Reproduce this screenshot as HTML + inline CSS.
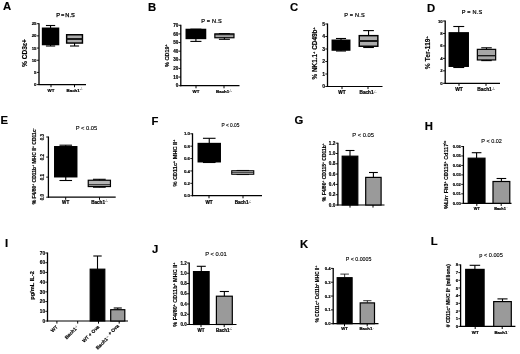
<!DOCTYPE html>
<html><head><meta charset="utf-8"><title>Figure</title>
<style>html,body{margin:0;padding:0;background:#fff}svg{display:block;font-family:"Liberation Sans", sans-serif}</style></head>
<body><svg width="520" height="354" viewBox="0 0 520 354" style="filter:blur(0.45px)">
<rect width="520" height="354" fill="#fff"/>
<text x="3" y="10" font-size="11.3" font-weight="bold" text-anchor="start" fill="#000" stroke="#000" stroke-width="0.16">A</text>
<line x1="39" y1="23.2" x2="39" y2="85.1" stroke="#000" stroke-width="1.3"/>
<line x1="38.5" y1="84.6" x2="86" y2="84.6" stroke="#000" stroke-width="1.2"/>
<line x1="36.8" y1="84.6" x2="39" y2="84.6" stroke="#000" stroke-width="0.9"/>
<text x="36.5" y="86.148" font-size="4.3" font-weight="bold" text-anchor="end" fill="#000" stroke="#000" stroke-width="0.16">0</text>
<line x1="36.8" y1="72.42" x2="39" y2="72.42" stroke="#000" stroke-width="0.9"/>
<text x="36.5" y="73.968" font-size="4.3" font-weight="bold" text-anchor="end" fill="#000" stroke="#000" stroke-width="0.16">5</text>
<line x1="36.8" y1="60.239999999999995" x2="39" y2="60.239999999999995" stroke="#000" stroke-width="0.9"/>
<text x="36.5" y="61.788" font-size="4.3" font-weight="bold" text-anchor="end" fill="#000" stroke="#000" stroke-width="0.16">10</text>
<line x1="36.8" y1="48.059999999999995" x2="39" y2="48.059999999999995" stroke="#000" stroke-width="0.9"/>
<text x="36.5" y="49.608" font-size="4.3" font-weight="bold" text-anchor="end" fill="#000" stroke="#000" stroke-width="0.16">15</text>
<line x1="36.8" y1="35.88" x2="39" y2="35.88" stroke="#000" stroke-width="0.9"/>
<text x="36.5" y="37.428000000000004" font-size="4.3" font-weight="bold" text-anchor="end" fill="#000" stroke="#000" stroke-width="0.16">20</text>
<line x1="36.8" y1="23.700000000000003" x2="39" y2="23.700000000000003" stroke="#000" stroke-width="0.9"/>
<text x="36.5" y="25.248" font-size="4.3" font-weight="bold" text-anchor="end" fill="#000" stroke="#000" stroke-width="0.16">25</text>
<line x1="51" y1="84.6" x2="51" y2="87.19999999999999" stroke="#000" stroke-width="1"/>
<line x1="74.5" y1="84.6" x2="74.5" y2="87.19999999999999" stroke="#000" stroke-width="1"/>
<text x="65.5" y="16.5" font-size="5.7" font-weight="normal" text-anchor="middle" fill="#000" stroke="#000" stroke-width="0.25" word-spacing="-0.5">P = N.S</text>
<text x="27.3" y="53" font-size="6.6" font-weight="bold" text-anchor="middle" fill="#000" stroke="#000" stroke-width="0.16" transform="rotate(-90 27.3 53)">% CD3&#949;+</text>
<text x="51" y="91.7" font-size="4.4" font-weight="bold" text-anchor="middle" fill="#000" stroke="#000" stroke-width="0.22">WT</text>
<text x="74.5" y="91.7" font-size="4.4" font-weight="bold" text-anchor="middle" fill="#000" stroke="#000" stroke-width="0.22">Bach1<tspan font-size="58%" dy="-1.5" font-weight="normal" stroke="none" letter-spacing="0.1">-/-</tspan></text>
<line x1="50.55" y1="25.5" x2="50.55" y2="46" stroke="#000" stroke-width="1.1"/>
<line x1="45.93" y1="25.5" x2="55.169999999999995" y2="25.5" stroke="#000" stroke-width="1.1"/>
<line x1="45.93" y1="46" x2="55.169999999999995" y2="46" stroke="#000" stroke-width="1.1"/>
<rect x="42.55" y="28.25" width="16.0" height="16.299999999999997" fill="#000" stroke="#000" stroke-width="1.45"/>
<line x1="74.55000000000001" y1="35" x2="74.55000000000001" y2="46" stroke="#000" stroke-width="1.1"/>
<line x1="69.98600000000002" y1="35" x2="79.114" y2="35" stroke="#000" stroke-width="1.1"/>
<line x1="69.98600000000002" y1="46" x2="79.114" y2="46" stroke="#000" stroke-width="1.1"/>
<rect x="66.65" y="34.75" width="15.799999999999997" height="8.299999999999997" fill="#acacac" stroke="#000" stroke-width="1.45"/>
<line x1="66.4" y1="39" x2="82.7" y2="39" stroke="#111" stroke-width="1.9"/>
<text x="148" y="11" font-size="11.3" font-weight="bold" text-anchor="start" fill="#000" stroke="#000" stroke-width="0.16">B</text>
<line x1="180.8" y1="24.8" x2="180.8" y2="86.2" stroke="#000" stroke-width="1.3"/>
<line x1="180.3" y1="85.7" x2="239.5" y2="85.7" stroke="#000" stroke-width="1.2"/>
<line x1="178.60000000000002" y1="85.7" x2="180.8" y2="85.7" stroke="#000" stroke-width="0.9"/>
<text x="178.3" y="87.35600000000001" font-size="4.6" font-weight="bold" text-anchor="end" fill="#000" stroke="#000" stroke-width="0.16">0</text>
<line x1="178.60000000000002" y1="77.07142857142857" x2="180.8" y2="77.07142857142857" stroke="#000" stroke-width="0.9"/>
<text x="178.3" y="78.72742857142858" font-size="4.6" font-weight="bold" text-anchor="end" fill="#000" stroke="#000" stroke-width="0.16">10</text>
<line x1="178.60000000000002" y1="68.44285714285715" x2="180.8" y2="68.44285714285715" stroke="#000" stroke-width="0.9"/>
<text x="178.3" y="70.09885714285716" font-size="4.6" font-weight="bold" text-anchor="end" fill="#000" stroke="#000" stroke-width="0.16">20</text>
<line x1="178.60000000000002" y1="59.81428571428572" x2="180.8" y2="59.81428571428572" stroke="#000" stroke-width="0.9"/>
<text x="178.3" y="61.470285714285716" font-size="4.6" font-weight="bold" text-anchor="end" fill="#000" stroke="#000" stroke-width="0.16">30</text>
<line x1="178.60000000000002" y1="51.18571428571428" x2="180.8" y2="51.18571428571428" stroke="#000" stroke-width="0.9"/>
<text x="178.3" y="52.84171428571428" font-size="4.6" font-weight="bold" text-anchor="end" fill="#000" stroke="#000" stroke-width="0.16">40</text>
<line x1="178.60000000000002" y1="42.55714285714286" x2="180.8" y2="42.55714285714286" stroke="#000" stroke-width="0.9"/>
<text x="178.3" y="44.213142857142856" font-size="4.6" font-weight="bold" text-anchor="end" fill="#000" stroke="#000" stroke-width="0.16">50</text>
<line x1="178.60000000000002" y1="33.92857142857142" x2="180.8" y2="33.92857142857142" stroke="#000" stroke-width="0.9"/>
<text x="178.3" y="35.58457142857142" font-size="4.6" font-weight="bold" text-anchor="end" fill="#000" stroke="#000" stroke-width="0.16">60</text>
<line x1="178.60000000000002" y1="25.29999999999999" x2="180.8" y2="25.29999999999999" stroke="#000" stroke-width="0.9"/>
<text x="178.3" y="26.95599999999999" font-size="4.6" font-weight="bold" text-anchor="end" fill="#000" stroke="#000" stroke-width="0.16">70</text>
<line x1="196" y1="85.7" x2="196" y2="88.3" stroke="#000" stroke-width="1"/>
<line x1="224" y1="85.7" x2="224" y2="88.3" stroke="#000" stroke-width="1"/>
<text x="211.5" y="22.7" font-size="5.6" font-weight="normal" text-anchor="middle" fill="#000" stroke="#000" stroke-width="0.2" letter-spacing="0.18">P = N.S</text>
<text x="169" y="55.6" font-size="5.5" font-weight="bold" text-anchor="middle" fill="#000" stroke="#000" stroke-width="0.16" transform="rotate(-90 169 55.6)">% CD19<tspan font-size="65%" baseline-shift="super">+</tspan></text>
<text x="196" y="93" font-size="4.4" font-weight="bold" text-anchor="middle" fill="#000" stroke="#000" stroke-width="0.22">WT</text>
<text x="224" y="93" font-size="4.4" font-weight="bold" text-anchor="middle" fill="#000" stroke="#000" stroke-width="0.22">Bach1<tspan font-size="58%" dy="-1.5" font-weight="normal" stroke="none" letter-spacing="0.1">-/-</tspan></text>
<line x1="195.9" y1="29.2" x2="195.9" y2="41.4" stroke="#000" stroke-width="1.1"/>
<line x1="190.356" y1="29.2" x2="201.44400000000002" y2="29.2" stroke="#000" stroke-width="1.1"/>
<line x1="190.356" y1="41.4" x2="201.44400000000002" y2="41.4" stroke="#000" stroke-width="1.1"/>
<rect x="186.25" y="29.45" width="19.30000000000001" height="9.000000000000004" fill="#000" stroke="#000" stroke-width="1.45"/>
<line x1="224.39999999999998" y1="33.6" x2="224.39999999999998" y2="39.3" stroke="#000" stroke-width="1.1"/>
<line x1="218.91199999999998" y1="33.6" x2="229.88799999999998" y2="33.6" stroke="#000" stroke-width="1.1"/>
<line x1="218.91199999999998" y1="39.3" x2="229.88799999999998" y2="39.3" stroke="#000" stroke-width="1.1"/>
<rect x="214.85" y="33.85" width="19.099999999999994" height="3.8999999999999986" fill="#a4a4a4" stroke="#000" stroke-width="1.2"/>
<line x1="214.6" y1="34.7" x2="234.2" y2="34.7" stroke="#111" stroke-width="0.9"/>
<text x="290" y="11" font-size="11.3" font-weight="bold" text-anchor="start" fill="#000" stroke="#000" stroke-width="0.16">C</text>
<line x1="327.5" y1="23.5" x2="327.5" y2="87.0" stroke="#000" stroke-width="1.3"/>
<line x1="327.0" y1="86.5" x2="382.5" y2="86.5" stroke="#000" stroke-width="1.2"/>
<line x1="325.3" y1="86.5" x2="327.5" y2="86.5" stroke="#000" stroke-width="0.9"/>
<text x="325.0" y="88.3" font-size="5" font-weight="bold" text-anchor="end" fill="#000" stroke="#000" stroke-width="0.16">0</text>
<line x1="325.3" y1="74.0" x2="327.5" y2="74.0" stroke="#000" stroke-width="0.9"/>
<text x="325.0" y="75.8" font-size="5" font-weight="bold" text-anchor="end" fill="#000" stroke="#000" stroke-width="0.16">1</text>
<line x1="325.3" y1="61.5" x2="327.5" y2="61.5" stroke="#000" stroke-width="0.9"/>
<text x="325.0" y="63.3" font-size="5" font-weight="bold" text-anchor="end" fill="#000" stroke="#000" stroke-width="0.16">2</text>
<line x1="325.3" y1="49.0" x2="327.5" y2="49.0" stroke="#000" stroke-width="0.9"/>
<text x="325.0" y="50.8" font-size="5" font-weight="bold" text-anchor="end" fill="#000" stroke="#000" stroke-width="0.16">3</text>
<line x1="325.3" y1="36.5" x2="327.5" y2="36.5" stroke="#000" stroke-width="0.9"/>
<text x="325.0" y="38.3" font-size="5" font-weight="bold" text-anchor="end" fill="#000" stroke="#000" stroke-width="0.16">4</text>
<line x1="325.3" y1="24.0" x2="327.5" y2="24.0" stroke="#000" stroke-width="0.9"/>
<text x="325.0" y="25.8" font-size="5" font-weight="bold" text-anchor="end" fill="#000" stroke="#000" stroke-width="0.16">5</text>
<line x1="342" y1="86.5" x2="342" y2="89.1" stroke="#000" stroke-width="1"/>
<line x1="368" y1="86.5" x2="368" y2="89.1" stroke="#000" stroke-width="1"/>
<text x="354.6" y="17.3" font-size="5.6" font-weight="normal" text-anchor="middle" fill="#000" stroke="#000" stroke-width="0.2" letter-spacing="0.18">P = N.S</text>
<text x="317" y="53.3" font-size="6.4" font-weight="bold" text-anchor="middle" fill="#000" stroke="#000" stroke-width="0.16" transform="rotate(-90 317 53.3)">% NK1.1<tspan font-size="65%" baseline-shift="super">+</tspan> CD49b<tspan font-size="65%" baseline-shift="super">+</tspan></text>
<text x="342" y="94" font-size="4.7" font-weight="bold" text-anchor="middle" fill="#000" stroke="#000" stroke-width="0.22">WT</text>
<text x="368" y="94" font-size="4.7" font-weight="bold" text-anchor="middle" fill="#000" stroke="#000" stroke-width="0.22">Bach1<tspan font-size="58%" dy="-1.5" font-weight="normal" stroke="none" letter-spacing="0.1">-/-</tspan></text>
<line x1="341.0" y1="38.5" x2="341.0" y2="51" stroke="#000" stroke-width="1.1"/>
<line x1="335.96" y1="38.5" x2="346.04" y2="38.5" stroke="#000" stroke-width="1.1"/>
<line x1="335.96" y1="51" x2="346.04" y2="51" stroke="#000" stroke-width="1.1"/>
<rect x="332.25" y="40.25" width="17.5" height="9.799999999999997" fill="#000" stroke="#000" stroke-width="1.45"/>
<line x1="368.55" y1="30.6" x2="368.55" y2="47.5" stroke="#000" stroke-width="1.1"/>
<line x1="363.202" y1="30.6" x2="373.898" y2="30.6" stroke="#000" stroke-width="1.1"/>
<line x1="363.202" y1="47.5" x2="373.898" y2="47.5" stroke="#000" stroke-width="1.1"/>
<rect x="359.25" y="35.65" width="18.600000000000023" height="10.600000000000001" fill="#acacac" stroke="#000" stroke-width="1.45"/>
<line x1="359" y1="41" x2="378.1" y2="41" stroke="#111" stroke-width="1.9"/>
<text x="427" y="11.6" font-size="11.3" font-weight="bold" text-anchor="start" fill="#000" stroke="#000" stroke-width="0.16">D</text>
<line x1="445.2" y1="20.5" x2="445.2" y2="83.8" stroke="#000" stroke-width="1.3"/>
<line x1="444.7" y1="83.3" x2="500" y2="83.3" stroke="#000" stroke-width="1.2"/>
<line x1="443.0" y1="83.3" x2="445.2" y2="83.3" stroke="#000" stroke-width="0.9"/>
<text x="442.7" y="84.848" font-size="4.3" font-weight="bold" text-anchor="end" fill="#000" stroke="#000" stroke-width="0.16">0</text>
<line x1="443.0" y1="70.84" x2="445.2" y2="70.84" stroke="#000" stroke-width="0.9"/>
<text x="442.7" y="72.388" font-size="4.3" font-weight="bold" text-anchor="end" fill="#000" stroke="#000" stroke-width="0.16">2</text>
<line x1="443.0" y1="58.379999999999995" x2="445.2" y2="58.379999999999995" stroke="#000" stroke-width="0.9"/>
<text x="442.7" y="59.928" font-size="4.3" font-weight="bold" text-anchor="end" fill="#000" stroke="#000" stroke-width="0.16">4</text>
<line x1="443.0" y1="45.92" x2="445.2" y2="45.92" stroke="#000" stroke-width="0.9"/>
<text x="442.7" y="47.468" font-size="4.3" font-weight="bold" text-anchor="end" fill="#000" stroke="#000" stroke-width="0.16">6</text>
<line x1="443.0" y1="33.46" x2="445.2" y2="33.46" stroke="#000" stroke-width="0.9"/>
<text x="442.7" y="35.008" font-size="4.3" font-weight="bold" text-anchor="end" fill="#000" stroke="#000" stroke-width="0.16">8</text>
<line x1="443.0" y1="21.0" x2="445.2" y2="21.0" stroke="#000" stroke-width="0.9"/>
<text x="442.7" y="22.548" font-size="4.3" font-weight="bold" text-anchor="end" fill="#000" stroke="#000" stroke-width="0.16">10</text>
<line x1="459" y1="83.3" x2="459" y2="85.89999999999999" stroke="#000" stroke-width="1"/>
<line x1="486" y1="83.3" x2="486" y2="85.89999999999999" stroke="#000" stroke-width="1"/>
<text x="472" y="14" font-size="5.6" font-weight="normal" text-anchor="middle" fill="#000" stroke="#000" stroke-width="0.2" letter-spacing="0.18">P = N.S</text>
<text x="429.8" y="52.5" font-size="6.7" font-weight="bold" text-anchor="middle" fill="#000" stroke="#000" stroke-width="0.16" transform="rotate(-90 429.8 52.5)">% Ter-119<tspan font-size="65%" baseline-shift="super">+</tspan></text>
<text x="459" y="91" font-size="4.9" font-weight="bold" text-anchor="middle" fill="#000" stroke="#000" stroke-width="0.22">WT</text>
<text x="486" y="91" font-size="4.9" font-weight="bold" text-anchor="middle" fill="#000" stroke="#000" stroke-width="0.22">Bach1<tspan font-size="58%" dy="-1.5" font-weight="normal" stroke="none" letter-spacing="0.1">-/-</tspan></text>
<line x1="458.75" y1="26.5" x2="458.75" y2="67.5" stroke="#000" stroke-width="1.1"/>
<line x1="453.29" y1="26.5" x2="464.21" y2="26.5" stroke="#000" stroke-width="1.1"/>
<line x1="453.29" y1="67.5" x2="464.21" y2="67.5" stroke="#000" stroke-width="1.1"/>
<rect x="449.25" y="32.85" width="19.0" height="33.4" fill="#000" stroke="#000" stroke-width="1.45"/>
<line x1="486.5" y1="47.8" x2="486.5" y2="60.6" stroke="#000" stroke-width="1.1"/>
<line x1="481.236" y1="47.8" x2="491.764" y2="47.8" stroke="#000" stroke-width="1.1"/>
<line x1="481.236" y1="60.6" x2="491.764" y2="60.6" stroke="#000" stroke-width="1.1"/>
<rect x="477.35" y="49.35" width="18.299999999999955" height="10.600000000000001" fill="#a6a6a6" stroke="#000" stroke-width="1.2"/>
<line x1="477.1" y1="55.7" x2="495.9" y2="55.7" stroke="#111" stroke-width="1.3"/>
<text x="0.4" y="124" font-size="11.3" font-weight="bold" text-anchor="start" fill="#000" stroke="#000" stroke-width="0.16">E</text>
<line x1="48.4" y1="136.5" x2="48.4" y2="197.7" stroke="#000" stroke-width="1.3"/>
<line x1="47.9" y1="197.2" x2="115.7" y2="197.2" stroke="#000" stroke-width="1.2"/>
<line x1="46.199999999999996" y1="197.2" x2="48.4" y2="197.2" stroke="#000" stroke-width="0.9"/>
<text x="44.0" y="197.2" font-size="4.5" font-weight="bold" text-anchor="middle" fill="#000" stroke="#000" stroke-width="0.16" transform="rotate(-90 44.0 197.2)">0.0</text>
<line x1="46.199999999999996" y1="177.13333333333333" x2="48.4" y2="177.13333333333333" stroke="#000" stroke-width="0.9"/>
<text x="44.0" y="177.13333333333333" font-size="4.5" font-weight="bold" text-anchor="middle" fill="#000" stroke="#000" stroke-width="0.16" transform="rotate(-90 44.0 177.13333333333333)">0.1</text>
<line x1="46.199999999999996" y1="157.06666666666666" x2="48.4" y2="157.06666666666666" stroke="#000" stroke-width="0.9"/>
<text x="44.0" y="157.06666666666666" font-size="4.5" font-weight="bold" text-anchor="middle" fill="#000" stroke="#000" stroke-width="0.16" transform="rotate(-90 44.0 157.06666666666666)">0.2</text>
<line x1="46.199999999999996" y1="137.0" x2="48.4" y2="137.0" stroke="#000" stroke-width="0.9"/>
<text x="44.0" y="137.0" font-size="4.5" font-weight="bold" text-anchor="middle" fill="#000" stroke="#000" stroke-width="0.16" transform="rotate(-90 44.0 137.0)">0.3</text>
<line x1="65.7" y1="197.2" x2="65.7" y2="199.79999999999998" stroke="#000" stroke-width="1"/>
<line x1="99.5" y1="197.2" x2="99.5" y2="199.79999999999998" stroke="#000" stroke-width="1"/>
<text x="86.5" y="129.6" font-size="5.8" font-weight="normal" text-anchor="middle" fill="#000" stroke="#000" stroke-width="0.12">P &lt; 0.05</text>
<text x="35.9" y="166.3" font-size="5" font-weight="bold" text-anchor="middle" fill="#000" stroke="#000" stroke-width="0.16" transform="rotate(-90 35.9 166.3)">% F4/80<tspan font-size="65%" baseline-shift="super">+</tspan> CD11b<tspan font-size="65%" baseline-shift="super">+</tspan> MHC II<tspan font-size="65%" baseline-shift="super">+</tspan> CD11c<tspan font-size="65%" baseline-shift="super">-</tspan></text>
<text x="65.7" y="203.5" font-size="4.6" font-weight="bold" text-anchor="middle" fill="#000" stroke="#000" stroke-width="0.22">WT</text>
<text x="99.5" y="203.5" font-size="4.6" font-weight="bold" text-anchor="middle" fill="#000" stroke="#000" stroke-width="0.22">Bach1<tspan font-size="58%" dy="-1.5" font-weight="normal" stroke="none" letter-spacing="0.1">-/-</tspan></text>
<line x1="65.75" y1="145.2" x2="65.75" y2="180.5" stroke="#000" stroke-width="1.1"/>
<line x1="59.45" y1="145.2" x2="72.05" y2="145.2" stroke="#000" stroke-width="1.1"/>
<line x1="59.45" y1="180.5" x2="72.05" y2="180.5" stroke="#000" stroke-width="1.1"/>
<rect x="54.75" y="146.75" width="22.0" height="30.0" fill="#000" stroke="#000" stroke-width="1.45"/>
<line x1="99.35" y1="179.3" x2="99.35" y2="187.2" stroke="#000" stroke-width="1.1"/>
<line x1="92.994" y1="179.3" x2="105.70599999999999" y2="179.3" stroke="#000" stroke-width="1.1"/>
<line x1="92.994" y1="187.2" x2="105.70599999999999" y2="187.2" stroke="#000" stroke-width="1.1"/>
<rect x="88.25" y="180.25" width="22.200000000000003" height="6.300000000000011" fill="#b4b4b4" stroke="#000" stroke-width="1.2"/>
<line x1="88" y1="184.7" x2="110.7" y2="184.7" stroke="#111" stroke-width="0.9"/>
<text x="151.5" y="124.5" font-size="11.3" font-weight="bold" text-anchor="start" fill="#000" stroke="#000" stroke-width="0.16">F</text>
<line x1="192.5" y1="133.3" x2="192.5" y2="196.2" stroke="#000" stroke-width="1.3"/>
<line x1="192.0" y1="195.7" x2="262" y2="195.7" stroke="#000" stroke-width="1.2"/>
<line x1="190.3" y1="195.7" x2="192.5" y2="195.7" stroke="#000" stroke-width="0.9"/>
<text x="190.0" y="197.284" font-size="4.4" font-weight="bold" text-anchor="end" fill="#000" stroke="#000" stroke-width="0.16">0.0</text>
<line x1="190.3" y1="183.32" x2="192.5" y2="183.32" stroke="#000" stroke-width="0.9"/>
<text x="190.0" y="184.904" font-size="4.4" font-weight="bold" text-anchor="end" fill="#000" stroke="#000" stroke-width="0.16">0.2</text>
<line x1="190.3" y1="170.94" x2="192.5" y2="170.94" stroke="#000" stroke-width="0.9"/>
<text x="190.0" y="172.524" font-size="4.4" font-weight="bold" text-anchor="end" fill="#000" stroke="#000" stroke-width="0.16">0.4</text>
<line x1="190.3" y1="158.56" x2="192.5" y2="158.56" stroke="#000" stroke-width="0.9"/>
<text x="190.0" y="160.144" font-size="4.4" font-weight="bold" text-anchor="end" fill="#000" stroke="#000" stroke-width="0.16">0.6</text>
<line x1="190.3" y1="146.18" x2="192.5" y2="146.18" stroke="#000" stroke-width="0.9"/>
<text x="190.0" y="147.764" font-size="4.4" font-weight="bold" text-anchor="end" fill="#000" stroke="#000" stroke-width="0.16">0.8</text>
<line x1="190.3" y1="133.8" x2="192.5" y2="133.8" stroke="#000" stroke-width="0.9"/>
<text x="190.0" y="135.38400000000001" font-size="4.4" font-weight="bold" text-anchor="end" fill="#000" stroke="#000" stroke-width="0.16">1.0</text>
<line x1="209" y1="195.7" x2="209" y2="198.29999999999998" stroke="#000" stroke-width="1"/>
<line x1="243" y1="195.7" x2="243" y2="198.29999999999998" stroke="#000" stroke-width="1"/>
<text x="230.5" y="126.5" font-size="4.8" font-weight="normal" text-anchor="middle" fill="#000" stroke="#000" stroke-width="0.12">P &lt; 0.05</text>
<text x="176.6" y="163.1" font-size="5.6" font-weight="bold" text-anchor="middle" fill="#000" stroke="#000" stroke-width="0.16" transform="rotate(-90 176.6 163.1)">% CD11c<tspan font-size="65%" baseline-shift="super">+</tspan> MHC  II<tspan font-size="65%" baseline-shift="super">+</tspan></text>
<text x="209" y="204" font-size="4.6" font-weight="bold" text-anchor="middle" fill="#000" stroke="#000" stroke-width="0.22">WT</text>
<text x="243" y="204" font-size="4.6" font-weight="bold" text-anchor="middle" fill="#000" stroke="#000" stroke-width="0.22">Bach1<tspan font-size="58%" dy="-1.5" font-weight="normal" stroke="none" letter-spacing="0.1">-/-</tspan></text>
<line x1="209.25" y1="138.3" x2="209.25" y2="162.5" stroke="#000" stroke-width="1.1"/>
<line x1="202.95" y1="138.3" x2="215.55" y2="138.3" stroke="#000" stroke-width="1.1"/>
<line x1="202.95" y1="162.5" x2="215.55" y2="162.5" stroke="#000" stroke-width="1.1"/>
<rect x="198.25" y="143.55" width="22.0" height="18.19999999999999" fill="#000" stroke="#000" stroke-width="1.45"/>
<line x1="242.75" y1="170.5" x2="242.75" y2="174.5" stroke="#000" stroke-width="1.1"/>
<line x1="236.45" y1="170.5" x2="249.05" y2="170.5" stroke="#000" stroke-width="1.1"/>
<line x1="236.45" y1="174.5" x2="249.05" y2="174.5" stroke="#000" stroke-width="1.1"/>
<rect x="231.75" y="170.75" width="22.0" height="3.5" fill="#d8d8d8" stroke="#000" stroke-width="1.1"/>
<line x1="231.5" y1="172.4" x2="254" y2="172.4" stroke="#111" stroke-width="0.8"/>
<text x="294.4" y="124" font-size="11.3" font-weight="bold" text-anchor="start" fill="#000" stroke="#000" stroke-width="0.16">G</text>
<line x1="337.9" y1="142.7" x2="337.9" y2="205.5" stroke="#000" stroke-width="1.3"/>
<line x1="337.4" y1="205" x2="384.5" y2="205" stroke="#000" stroke-width="1.2"/>
<line x1="335.7" y1="205.0" x2="337.9" y2="205.0" stroke="#000" stroke-width="0.9"/>
<text x="335.4" y="206.692" font-size="4.7" font-weight="bold" text-anchor="end" fill="#000" stroke="#000" stroke-width="0.16">0.0</text>
<line x1="335.7" y1="194.7" x2="337.9" y2="194.7" stroke="#000" stroke-width="0.9"/>
<text x="335.4" y="196.392" font-size="4.7" font-weight="bold" text-anchor="end" fill="#000" stroke="#000" stroke-width="0.16">0.2</text>
<line x1="335.7" y1="184.4" x2="337.9" y2="184.4" stroke="#000" stroke-width="0.9"/>
<text x="335.4" y="186.092" font-size="4.7" font-weight="bold" text-anchor="end" fill="#000" stroke="#000" stroke-width="0.16">0.4</text>
<line x1="335.7" y1="174.1" x2="337.9" y2="174.1" stroke="#000" stroke-width="0.9"/>
<text x="335.4" y="175.792" font-size="4.7" font-weight="bold" text-anchor="end" fill="#000" stroke="#000" stroke-width="0.16">0.6</text>
<line x1="335.7" y1="163.79999999999998" x2="337.9" y2="163.79999999999998" stroke="#000" stroke-width="0.9"/>
<text x="335.4" y="165.492" font-size="4.7" font-weight="bold" text-anchor="end" fill="#000" stroke="#000" stroke-width="0.16">0.8</text>
<line x1="335.7" y1="153.5" x2="337.9" y2="153.5" stroke="#000" stroke-width="0.9"/>
<text x="335.4" y="155.192" font-size="4.7" font-weight="bold" text-anchor="end" fill="#000" stroke="#000" stroke-width="0.16">1.0</text>
<line x1="335.7" y1="143.2" x2="337.9" y2="143.2" stroke="#000" stroke-width="0.9"/>
<text x="335.4" y="144.892" font-size="4.7" font-weight="bold" text-anchor="end" fill="#000" stroke="#000" stroke-width="0.16">1.2</text>
<line x1="350" y1="205" x2="350" y2="207.6" stroke="#000" stroke-width="1"/>
<line x1="373" y1="205" x2="373" y2="207.6" stroke="#000" stroke-width="1"/>
<text x="363.2" y="137.3" font-size="5.8" font-weight="normal" text-anchor="middle" fill="#000" stroke="#000" stroke-width="0.12">P &lt; 0.05</text>
<text x="325.6" y="172.2" font-size="5" font-weight="bold" text-anchor="middle" fill="#000" stroke="#000" stroke-width="0.16" transform="rotate(-90 325.6 172.2)">% F4/80<tspan font-size="65%" baseline-shift="super">+</tspan> CD115<tspan font-size="65%" baseline-shift="super">+</tspan> CD11b<tspan font-size="65%" baseline-shift="super">+</tspan></text>
<text x="350" y="212" font-size="5.2" font-weight="bold" text-anchor="middle" fill="#000" stroke="#000" stroke-width="0.22"></text>
<text x="373" y="212" font-size="5.2" font-weight="bold" text-anchor="middle" fill="#000" stroke="#000" stroke-width="0.22"></text>
<line x1="350.0" y1="150.5" x2="350.0" y2="156" stroke="#000" stroke-width="1.1"/>
<line x1="345.52" y1="150.5" x2="354.48" y2="150.5" stroke="#000" stroke-width="1.1"/>
<rect x="342.2" y="156.2" width="15.6" height="48.8" fill="#000" stroke="#000" stroke-width="1.2"/>
<line x1="373.4" y1="172.5" x2="373.4" y2="177.2" stroke="#000" stroke-width="1.1"/>
<line x1="368.976" y1="172.5" x2="377.82399999999996" y2="172.5" stroke="#000" stroke-width="1.1"/>
<rect x="365.7" y="177.39999999999998" width="15.400000000000011" height="27.600000000000012" fill="#9a9a9a" stroke="#000" stroke-width="1.2"/>
<text x="424.8" y="130.1" font-size="11.3" font-weight="bold" text-anchor="start" fill="#000" stroke="#000" stroke-width="0.16">H</text>
<line x1="463.4" y1="146.0" x2="463.4" y2="203.8" stroke="#000" stroke-width="1.3"/>
<line x1="462.9" y1="203.3" x2="511.5" y2="203.3" stroke="#000" stroke-width="1.2"/>
<line x1="461.2" y1="203.3" x2="463.4" y2="203.3" stroke="#000" stroke-width="0.9"/>
<text x="460.9" y="204.812" font-size="4.2" font-weight="bold" text-anchor="end" fill="#000" stroke="#000" stroke-width="0.16">0.00</text>
<line x1="461.2" y1="193.83333333333334" x2="463.4" y2="193.83333333333334" stroke="#000" stroke-width="0.9"/>
<text x="460.9" y="195.34533333333334" font-size="4.2" font-weight="bold" text-anchor="end" fill="#000" stroke="#000" stroke-width="0.16">0.01</text>
<line x1="461.2" y1="184.36666666666667" x2="463.4" y2="184.36666666666667" stroke="#000" stroke-width="0.9"/>
<text x="460.9" y="185.87866666666667" font-size="4.2" font-weight="bold" text-anchor="end" fill="#000" stroke="#000" stroke-width="0.16">0.02</text>
<line x1="461.2" y1="174.9" x2="463.4" y2="174.9" stroke="#000" stroke-width="0.9"/>
<text x="460.9" y="176.412" font-size="4.2" font-weight="bold" text-anchor="end" fill="#000" stroke="#000" stroke-width="0.16">0.03</text>
<line x1="461.2" y1="165.43333333333334" x2="463.4" y2="165.43333333333334" stroke="#000" stroke-width="0.9"/>
<text x="460.9" y="166.94533333333334" font-size="4.2" font-weight="bold" text-anchor="end" fill="#000" stroke="#000" stroke-width="0.16">0.04</text>
<line x1="461.2" y1="155.96666666666667" x2="463.4" y2="155.96666666666667" stroke="#000" stroke-width="0.9"/>
<text x="460.9" y="157.47866666666667" font-size="4.2" font-weight="bold" text-anchor="end" fill="#000" stroke="#000" stroke-width="0.16">0.05</text>
<line x1="461.2" y1="146.5" x2="463.4" y2="146.5" stroke="#000" stroke-width="0.9"/>
<text x="460.9" y="148.012" font-size="4.2" font-weight="bold" text-anchor="end" fill="#000" stroke="#000" stroke-width="0.16">0.06</text>
<line x1="476.8" y1="203.3" x2="476.8" y2="205.9" stroke="#000" stroke-width="1"/>
<line x1="501.2" y1="203.3" x2="501.2" y2="205.9" stroke="#000" stroke-width="1"/>
<text x="491.6" y="142.8" font-size="5.5" font-weight="normal" text-anchor="middle" fill="#000" stroke="#000" stroke-width="0.12">P &lt; 0.02</text>
<text x="448" y="174.8" font-size="5.45" font-weight="bold" text-anchor="middle" fill="#000" stroke="#000" stroke-width="0.16" transform="rotate(-90 448 174.8)">%Lin<tspan font-size="65%" baseline-shift="super">-</tspan> Flt3<tspan font-size="65%" baseline-shift="super">+</tspan> CD115<tspan font-size="65%" baseline-shift="super">+</tspan> Cd117<tspan font-size="65%" baseline-shift="super">lo</tspan></text>
<text x="476.8" y="209.9" font-size="3.9" font-weight="bold" text-anchor="middle" fill="#000" stroke="#000" stroke-width="0.22">WT</text>
<text x="501.2" y="209.9" font-size="3.9" font-weight="bold" text-anchor="middle" fill="#000" stroke="#000" stroke-width="0.22">Bach1<tspan font-size="58%" dy="-1.5" font-weight="normal" stroke="none" letter-spacing="0.1">-/-</tspan></text>
<line x1="476.6" y1="152.7" x2="476.6" y2="158" stroke="#000" stroke-width="1.1"/>
<line x1="471.78400000000005" y1="152.7" x2="481.416" y2="152.7" stroke="#000" stroke-width="1.1"/>
<rect x="468.2" y="158.2" width="16.79999999999999" height="45.10000000000001" fill="#000" stroke="#000" stroke-width="1.2"/>
<line x1="501.4" y1="178.5" x2="501.4" y2="181.3" stroke="#000" stroke-width="1.1"/>
<line x1="496.584" y1="178.5" x2="506.21599999999995" y2="178.5" stroke="#000" stroke-width="1.1"/>
<rect x="493.0" y="181.5" width="16.79999999999999" height="21.8" fill="#9a9a9a" stroke="#000" stroke-width="1.2"/>
<text x="5" y="247" font-size="11.3" font-weight="bold" text-anchor="start" fill="#000" stroke="#000" stroke-width="0.16">I</text>
<line x1="47.5" y1="252.5" x2="47.5" y2="321.5" stroke="#000" stroke-width="1.3"/>
<line x1="47.0" y1="321" x2="128" y2="321" stroke="#000" stroke-width="1.2"/>
<line x1="45.3" y1="321.0" x2="47.5" y2="321.0" stroke="#000" stroke-width="0.9"/>
<text x="45.0" y="322.692" font-size="4.7" font-weight="bold" text-anchor="end" fill="#000" stroke="#000" stroke-width="0.16">0</text>
<line x1="45.3" y1="311.2857142857143" x2="47.5" y2="311.2857142857143" stroke="#000" stroke-width="0.9"/>
<text x="45.0" y="312.9777142857143" font-size="4.7" font-weight="bold" text-anchor="end" fill="#000" stroke="#000" stroke-width="0.16">10</text>
<line x1="45.3" y1="301.57142857142856" x2="47.5" y2="301.57142857142856" stroke="#000" stroke-width="0.9"/>
<text x="45.0" y="303.26342857142856" font-size="4.7" font-weight="bold" text-anchor="end" fill="#000" stroke="#000" stroke-width="0.16">20</text>
<line x1="45.3" y1="291.85714285714283" x2="47.5" y2="291.85714285714283" stroke="#000" stroke-width="0.9"/>
<text x="45.0" y="293.54914285714284" font-size="4.7" font-weight="bold" text-anchor="end" fill="#000" stroke="#000" stroke-width="0.16">30</text>
<line x1="45.3" y1="282.14285714285717" x2="47.5" y2="282.14285714285717" stroke="#000" stroke-width="0.9"/>
<text x="45.0" y="283.8348571428572" font-size="4.7" font-weight="bold" text-anchor="end" fill="#000" stroke="#000" stroke-width="0.16">40</text>
<line x1="45.3" y1="272.42857142857144" x2="47.5" y2="272.42857142857144" stroke="#000" stroke-width="0.9"/>
<text x="45.0" y="274.12057142857145" font-size="4.7" font-weight="bold" text-anchor="end" fill="#000" stroke="#000" stroke-width="0.16">50</text>
<line x1="45.3" y1="262.7142857142857" x2="47.5" y2="262.7142857142857" stroke="#000" stroke-width="0.9"/>
<text x="45.0" y="264.40628571428573" font-size="4.7" font-weight="bold" text-anchor="end" fill="#000" stroke="#000" stroke-width="0.16">60</text>
<line x1="45.3" y1="253.0" x2="47.5" y2="253.0" stroke="#000" stroke-width="0.9"/>
<text x="45.0" y="254.692" font-size="4.7" font-weight="bold" text-anchor="end" fill="#000" stroke="#000" stroke-width="0.16">70</text>
<line x1="56.9" y1="321" x2="56.9" y2="323.6" stroke="#000" stroke-width="1"/>
<line x1="77.7" y1="321" x2="77.7" y2="323.6" stroke="#000" stroke-width="1"/>
<line x1="98.5" y1="321" x2="98.5" y2="323.6" stroke="#000" stroke-width="1"/>
<line x1="119.2" y1="321" x2="119.2" y2="323.6" stroke="#000" stroke-width="1"/>
<text x="33.9" y="285.5" font-size="5.7" font-weight="bold" text-anchor="middle" fill="#000" stroke="#000" stroke-width="0.16" transform="rotate(-90 33.9 285.5)">pg/mL  IL-2</text>
<text x="58.1" y="327.3" font-size="4.8" font-weight="bold" text-anchor="end" fill="#000" stroke="#000" stroke-width="0.16" transform="rotate(-45 58.1 327.3)">WT</text>
<text x="78.9" y="327.3" font-size="4.8" font-weight="bold" text-anchor="end" fill="#000" stroke="#000" stroke-width="0.16" transform="rotate(-45 78.9 327.3)">Bach1<tspan font-size="58%" dy="-1.5" font-weight="normal" stroke="none" letter-spacing="0.1">-/-</tspan></text>
<text x="99.7" y="327.3" font-size="4.8" font-weight="bold" text-anchor="end" fill="#000" stroke="#000" stroke-width="0.16" transform="rotate(-45 99.7 327.3)">WT + Ova</text>
<text x="120.4" y="327.3" font-size="4.8" font-weight="bold" text-anchor="end" fill="#000" stroke="#000" stroke-width="0.16" transform="rotate(-45 120.4 327.3)">Bach1<tspan font-size="58%" dy="-1.5" font-weight="normal" stroke="none" letter-spacing="0.1">-/-</tspan> + Ova</text>
<line x1="97.5" y1="256" x2="97.5" y2="269" stroke="#000" stroke-width="1.1"/>
<line x1="93.3" y1="256" x2="101.7" y2="256" stroke="#000" stroke-width="1.1"/>
<rect x="90.2" y="269.2" width="14.6" height="51.8" fill="#000" stroke="#000" stroke-width="1.2"/>
<line x1="117.75" y1="308" x2="117.75" y2="309.5" stroke="#000" stroke-width="1.1"/>
<line x1="113.69" y1="308" x2="121.81" y2="308" stroke="#000" stroke-width="1.1"/>
<rect x="110.7" y="309.7" width="14.1" height="11.3" fill="#9a9a9a" stroke="#000" stroke-width="1.2"/>
<text x="152" y="253" font-size="11.3" font-weight="bold" text-anchor="start" fill="#000" stroke="#000" stroke-width="0.16">J</text>
<line x1="189.2" y1="262.5" x2="189.2" y2="325.0" stroke="#000" stroke-width="1.3"/>
<line x1="188.7" y1="324.5" x2="236.5" y2="324.5" stroke="#000" stroke-width="1.2"/>
<line x1="187.0" y1="324.5" x2="189.2" y2="324.5" stroke="#000" stroke-width="0.9"/>
<text x="186.7" y="326.12" font-size="4.5" font-weight="bold" text-anchor="end" fill="#000" stroke="#000" stroke-width="0.16">0.0</text>
<line x1="187.0" y1="314.25" x2="189.2" y2="314.25" stroke="#000" stroke-width="0.9"/>
<text x="186.7" y="315.87" font-size="4.5" font-weight="bold" text-anchor="end" fill="#000" stroke="#000" stroke-width="0.16">0.2</text>
<line x1="187.0" y1="304.0" x2="189.2" y2="304.0" stroke="#000" stroke-width="0.9"/>
<text x="186.7" y="305.62" font-size="4.5" font-weight="bold" text-anchor="end" fill="#000" stroke="#000" stroke-width="0.16">0.4</text>
<line x1="187.0" y1="293.75" x2="189.2" y2="293.75" stroke="#000" stroke-width="0.9"/>
<text x="186.7" y="295.37" font-size="4.5" font-weight="bold" text-anchor="end" fill="#000" stroke="#000" stroke-width="0.16">0.6</text>
<line x1="187.0" y1="283.5" x2="189.2" y2="283.5" stroke="#000" stroke-width="0.9"/>
<text x="186.7" y="285.12" font-size="4.5" font-weight="bold" text-anchor="end" fill="#000" stroke="#000" stroke-width="0.16">0.8</text>
<line x1="187.0" y1="273.25" x2="189.2" y2="273.25" stroke="#000" stroke-width="0.9"/>
<text x="186.7" y="274.87" font-size="4.5" font-weight="bold" text-anchor="end" fill="#000" stroke="#000" stroke-width="0.16">1.0</text>
<line x1="187.0" y1="263.0" x2="189.2" y2="263.0" stroke="#000" stroke-width="0.9"/>
<text x="186.7" y="264.62" font-size="4.5" font-weight="bold" text-anchor="end" fill="#000" stroke="#000" stroke-width="0.16">1.2</text>
<line x1="201" y1="324.5" x2="201" y2="327.1" stroke="#000" stroke-width="1"/>
<line x1="224.2" y1="324.5" x2="224.2" y2="327.1" stroke="#000" stroke-width="1"/>
<text x="216" y="256" font-size="5.8" font-weight="normal" text-anchor="middle" fill="#000" stroke="#000" stroke-width="0.12">P &lt; 0.01</text>
<text x="176.8" y="294.7" font-size="5.5" font-weight="bold" text-anchor="middle" fill="#000" stroke="#000" stroke-width="0.16" transform="rotate(-90 176.8 294.7)">% F4/80<tspan font-size="65%" baseline-shift="super">+</tspan> CD11b<tspan font-size="65%" baseline-shift="super">+</tspan> MHC II<tspan font-size="65%" baseline-shift="super">+</tspan></text>
<text x="201" y="331.6" font-size="4.5" font-weight="bold" text-anchor="middle" fill="#000" stroke="#000" stroke-width="0.22">WT</text>
<text x="224.2" y="331.6" font-size="4.5" font-weight="bold" text-anchor="middle" fill="#000" stroke="#000" stroke-width="0.22">Bach1<tspan font-size="58%" dy="-1.5" font-weight="normal" stroke="none" letter-spacing="0.1">-/-</tspan></text>
<line x1="201.3" y1="266.3" x2="201.3" y2="271.4" stroke="#000" stroke-width="1.1"/>
<line x1="196.82000000000002" y1="266.3" x2="205.78" y2="266.3" stroke="#000" stroke-width="1.1"/>
<rect x="193.5" y="271.59999999999997" width="15.6" height="52.90000000000002" fill="#000" stroke="#000" stroke-width="1.2"/>
<line x1="224.35" y1="291.5" x2="224.35" y2="296" stroke="#000" stroke-width="1.1"/>
<line x1="219.786" y1="291.5" x2="228.914" y2="291.5" stroke="#000" stroke-width="1.1"/>
<rect x="216.39999999999998" y="296.2" width="15.900000000000011" height="28.3" fill="#9a9a9a" stroke="#000" stroke-width="1.2"/>
<text x="300" y="248.4" font-size="11.3" font-weight="bold" text-anchor="start" fill="#000" stroke="#000" stroke-width="0.16">K</text>
<line x1="333.2" y1="267.9" x2="333.2" y2="324.2" stroke="#000" stroke-width="1.3"/>
<line x1="332.7" y1="323.7" x2="378.5" y2="323.7" stroke="#000" stroke-width="1.2"/>
<line x1="331.0" y1="323.7" x2="333.2" y2="323.7" stroke="#000" stroke-width="0.9"/>
<text x="330.7" y="325.248" font-size="4.3" font-weight="bold" text-anchor="end" fill="#000" stroke="#000" stroke-width="0.16">0.0</text>
<line x1="331.0" y1="309.875" x2="333.2" y2="309.875" stroke="#000" stroke-width="0.9"/>
<text x="330.7" y="311.423" font-size="4.3" font-weight="bold" text-anchor="end" fill="#000" stroke="#000" stroke-width="0.16">0.1</text>
<line x1="331.0" y1="296.04999999999995" x2="333.2" y2="296.04999999999995" stroke="#000" stroke-width="0.9"/>
<text x="330.7" y="297.59799999999996" font-size="4.3" font-weight="bold" text-anchor="end" fill="#000" stroke="#000" stroke-width="0.16">0.2</text>
<line x1="331.0" y1="282.22499999999997" x2="333.2" y2="282.22499999999997" stroke="#000" stroke-width="0.9"/>
<text x="330.7" y="283.77299999999997" font-size="4.3" font-weight="bold" text-anchor="end" fill="#000" stroke="#000" stroke-width="0.16">0.3</text>
<line x1="331.0" y1="268.4" x2="333.2" y2="268.4" stroke="#000" stroke-width="0.9"/>
<text x="330.7" y="269.948" font-size="4.3" font-weight="bold" text-anchor="end" fill="#000" stroke="#000" stroke-width="0.16">0.4</text>
<line x1="344.5" y1="323.7" x2="344.5" y2="326.3" stroke="#000" stroke-width="1"/>
<line x1="367.2" y1="323.7" x2="367.2" y2="326.3" stroke="#000" stroke-width="1"/>
<text x="358.6" y="261.2" font-size="5.3" font-weight="normal" text-anchor="middle" fill="#000" stroke="#000" stroke-width="0.12">P &lt; 0.0005</text>
<text x="319.2" y="294" font-size="4.7" font-weight="bold" text-anchor="middle" fill="#000" stroke="#000" stroke-width="0.16" transform="rotate(-90 319.2 294)">% CD11c<tspan font-size="65%" baseline-shift="super">+</tspan> Cd11b<tspan font-size="65%" baseline-shift="super">+</tspan> MHC  II<tspan font-size="65%" baseline-shift="super">+</tspan></text>
<text x="344.5" y="330.4" font-size="4.3" font-weight="bold" text-anchor="middle" fill="#000" stroke="#000" stroke-width="0.22">WT</text>
<text x="367.2" y="330.4" font-size="4.3" font-weight="bold" text-anchor="middle" fill="#000" stroke="#000" stroke-width="0.22">Bach1<tspan font-size="58%" dy="-1.5" font-weight="normal" stroke="none" letter-spacing="0.1">-/-</tspan></text>
<line x1="344.65" y1="274.1" x2="344.65" y2="277.5" stroke="#000" stroke-width="0.8"/>
<line x1="340.366" y1="274.1" x2="348.93399999999997" y2="274.1" stroke="#000" stroke-width="0.8"/>
<rect x="337.2" y="277.7" width="14.900000000000011" height="45.999999999999986" fill="#000" stroke="#000" stroke-width="1.2"/>
<line x1="367.35" y1="300.7" x2="367.35" y2="302.7" stroke="#000" stroke-width="0.8"/>
<line x1="363.23400000000004" y1="300.7" x2="371.466" y2="300.7" stroke="#000" stroke-width="0.8"/>
<rect x="360.2" y="302.9" width="14.299999999999988" height="20.8" fill="#9a9a9a" stroke="#000" stroke-width="1.2"/>
<text x="430.8" y="245.1" font-size="11.3" font-weight="bold" text-anchor="start" fill="#000" stroke="#000" stroke-width="0.16">L</text>
<line x1="460.6" y1="264.4" x2="460.6" y2="326.9" stroke="#000" stroke-width="1.3"/>
<line x1="460.1" y1="326.4" x2="515.4" y2="326.4" stroke="#000" stroke-width="1.2"/>
<line x1="458.40000000000003" y1="326.4" x2="460.6" y2="326.4" stroke="#000" stroke-width="0.9"/>
<text x="458.1" y="327.948" font-size="4.3" font-weight="bold" text-anchor="end" fill="#000" stroke="#000" stroke-width="0.16">0</text>
<line x1="458.40000000000003" y1="318.7125" x2="460.6" y2="318.7125" stroke="#000" stroke-width="0.9"/>
<text x="458.1" y="320.2605" font-size="4.3" font-weight="bold" text-anchor="end" fill="#000" stroke="#000" stroke-width="0.16">1</text>
<line x1="458.40000000000003" y1="311.025" x2="460.6" y2="311.025" stroke="#000" stroke-width="0.9"/>
<text x="458.1" y="312.573" font-size="4.3" font-weight="bold" text-anchor="end" fill="#000" stroke="#000" stroke-width="0.16">2</text>
<line x1="458.40000000000003" y1="303.3375" x2="460.6" y2="303.3375" stroke="#000" stroke-width="0.9"/>
<text x="458.1" y="304.8855" font-size="4.3" font-weight="bold" text-anchor="end" fill="#000" stroke="#000" stroke-width="0.16">3</text>
<line x1="458.40000000000003" y1="295.65" x2="460.6" y2="295.65" stroke="#000" stroke-width="0.9"/>
<text x="458.1" y="297.198" font-size="4.3" font-weight="bold" text-anchor="end" fill="#000" stroke="#000" stroke-width="0.16">4</text>
<line x1="458.40000000000003" y1="287.9625" x2="460.6" y2="287.9625" stroke="#000" stroke-width="0.9"/>
<text x="458.1" y="289.5105" font-size="4.3" font-weight="bold" text-anchor="end" fill="#000" stroke="#000" stroke-width="0.16">5</text>
<line x1="458.40000000000003" y1="280.275" x2="460.6" y2="280.275" stroke="#000" stroke-width="0.9"/>
<text x="458.1" y="281.823" font-size="4.3" font-weight="bold" text-anchor="end" fill="#000" stroke="#000" stroke-width="0.16">6</text>
<line x1="458.40000000000003" y1="272.5875" x2="460.6" y2="272.5875" stroke="#000" stroke-width="0.9"/>
<text x="458.1" y="274.1355" font-size="4.3" font-weight="bold" text-anchor="end" fill="#000" stroke="#000" stroke-width="0.16">7</text>
<line x1="458.40000000000003" y1="264.9" x2="460.6" y2="264.9" stroke="#000" stroke-width="0.9"/>
<text x="458.1" y="266.448" font-size="4.3" font-weight="bold" text-anchor="end" fill="#000" stroke="#000" stroke-width="0.16">8</text>
<line x1="475.2" y1="326.4" x2="475.2" y2="329.0" stroke="#000" stroke-width="1"/>
<line x1="502.2" y1="326.4" x2="502.2" y2="329.0" stroke="#000" stroke-width="1"/>
<text x="491.1" y="257" font-size="5.6" font-weight="normal" text-anchor="middle" fill="#000" stroke="#000" stroke-width="0.12">p &lt; 0.005</text>
<text x="450.5" y="295.7" font-size="4.95" font-weight="bold" text-anchor="middle" fill="#000" stroke="#000" stroke-width="0.16" transform="rotate(-90 450.5 295.7)"># CD11c<tspan font-size="65%" baseline-shift="super">+</tspan> MHC II<tspan font-size="65%" baseline-shift="super">+</tspan> (millions)</text>
<text x="475.2" y="333.6" font-size="4.3" font-weight="bold" text-anchor="middle" fill="#000" stroke="#000" stroke-width="0.22">WT</text>
<text x="502.2" y="333.6" font-size="4.3" font-weight="bold" text-anchor="middle" fill="#000" stroke="#000" stroke-width="0.22">Bach1<tspan font-size="58%" dy="-1.5" font-weight="normal" stroke="none" letter-spacing="0.1">-/-</tspan></text>
<line x1="474.9" y1="265.3" x2="474.9" y2="269.2" stroke="#000" stroke-width="1.1"/>
<line x1="469.63599999999997" y1="265.3" x2="480.164" y2="265.3" stroke="#000" stroke-width="1.1"/>
<rect x="465.7" y="269.4" width="18.400000000000013" height="56.999999999999986" fill="#000" stroke="#000" stroke-width="1.2"/>
<line x1="502.5" y1="298.9" x2="502.5" y2="301.4" stroke="#000" stroke-width="1.1"/>
<line x1="497.46" y1="298.9" x2="507.54" y2="298.9" stroke="#000" stroke-width="1.1"/>
<rect x="493.7" y="301.59999999999997" width="17.6" height="24.8" fill="#9a9a9a" stroke="#000" stroke-width="1.2"/>
</svg></body></html>
